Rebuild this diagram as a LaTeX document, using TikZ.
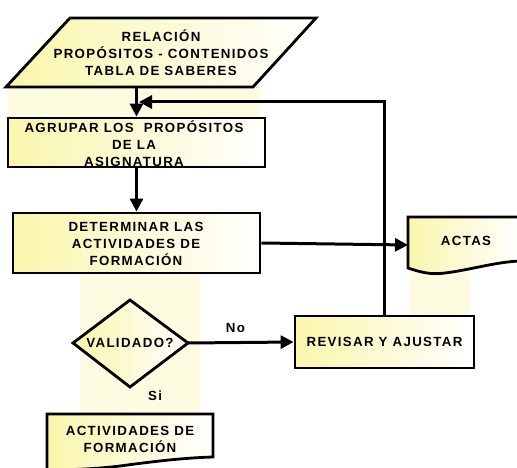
\documentclass[tikz,border=0pt]{standalone}
\usepackage{fontspec}
\setmainfont{Liberation Sans}
\newfontfamily\lsfont[LetterSpace=10,UprightFont={* Bold}]{Liberation Sans}
\usetikzlibrary{arrows.meta}
\definecolor{ylw}{RGB}{250,246,172}
\definecolor{paleylw}{RGB}{253,252,225}
\tikzset{
  lbl/.style={font=\lsfont\fontsize{13.3}{17}\selectfont, align=center, inner sep=0pt},
  shp/.style={draw=black, line width=2.8pt, left color=ylw, right color=white, line join=miter},
  boxnode/.style={shp, rectangle, inner sep=0pt},
  arr/.style={line width=3pt, -{Triangle[length=13pt,width=13pt]}},
}
\begin{document}
\begin{tikzpicture}[x=1pt,y=-1pt]
\useasboundingbox (0,0) rectangle (517,468);
% faint background panels
\fill[paleylw] (8,87) rectangle (260,118);
\fill[paleylw] (80,273) -- (200,273) -- (200,440) -- (80,440) -- cycle;
\fill[paleylw] (410,273) -- (470,273) -- (470,325) -- (410,325) -- cycle;
% parallelogram
\draw[shp] (70,18) -- (316,18) -- (253,87) -- (6,87) -- cycle;
\node[lbl] (par) at (161,53) {RELACIÓN\\PROPÓSITOS - CONTENIDOS\\TABLA DE SABERES};
\coordinate (parB) at (136.5,87);
% boxes
\node[boxnode, minimum width=257pt, minimum height=49pt] (agr) at (136.5,142.5) {};
\node[lbl] at (134,144) {AGRUPAR LOS \ PROPÓSITOS\\DE LA\\ASIGNATURA};
\node[boxnode, minimum width=247pt, minimum height=60pt] (det) at (136.5,243) {};
\node[lbl] at (136,244) {DETERMINAR LAS\\ACTIVIDADES DE\\FORMACIÓN};
% ACTAS document
\draw[shp] (520,217) -- (408,217) -- (408,268) .. controls (420,272) and (430,275) .. (445,273) .. controls (470,270) and (495,262) .. (520,261);
\node[lbl] (actas) at (466,241) {ACTAS};
\coordinate (actasW) at (408,245);
% diamond
\draw[shp] (130,300) -- (188,343) -- (130,387) -- (73,343) -- cycle;
\node[lbl] (dia) at (130,343) {VALIDADO?};
\coordinate (diaR) at (188,343);
% revisar
\node[boxnode, minimum width=179pt, minimum height=52pt, lbl, draw, line width=2.8pt, left color=ylw, right color=white] (rev) at (384.5,342) {REVISAR Y AJUSTAR};
% actividades document
\draw[shp] (47,470) -- (47,414) -- (213,414) -- (213,457) .. controls (180,458) and (150,462) .. (120,466) .. controls (95,469) and (70,470) .. (47,470);
\node[lbl] (act) at (130,439) {ACTIVIDADES DE\\FORMACIÓN};
% connectors
\draw[arr] (parB) -- (agr.north);
\draw[arr] (agr.south) -- (det.north);
\draw[arr] (det.east) -- (actasW);
\coordinate (fbTip) at (139,102);
\draw[arr] (rev.north) |- (fbTip);
\draw[arr] (diaR) -- (rev.west) node[lbl, pos=0.45, above=8pt] {No};
\node[lbl] (si) at (155,396) {Si};
\end{tikzpicture}
\end{document}
